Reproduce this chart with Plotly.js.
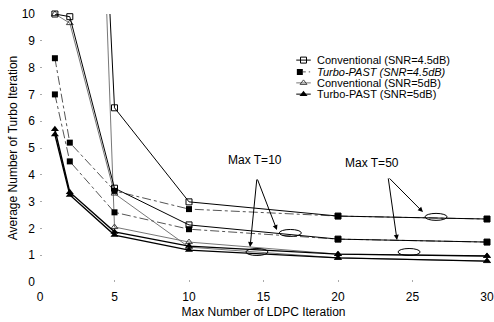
<!DOCTYPE html>
<html>
<head>
<meta charset="utf-8">
<script src="https://cdn.plot.ly/plotly-3.0.1.min.js"></script>
<style>html,body{margin:0;padding:0;background:#fff;}#chart{width:494px;height:322px;}</style>
</head>
<body>
<div id="chart"></div>
<script>
// Max number of LDPC iterations (x)
var ldpcIter = [1, 2, 5, 10, 20, 30];
// Average number of turbo iterations, Max T=10
var conv45_T10  = [10, 9.9, 3.5, 2.13, 1.60, 1.49];
var turbo45_T10 = [7.0, 4.5, 2.6, 1.97, 1.60, 1.49];
var conv5_T10   = [10, 9.66, 3.3, 1.30, 0.90, 0.78];
var turbo5_T10  = [5.5, 3.25, 1.75, 1.19, 0.90, 0.78];
// Average number of turbo iterations, Max T=50 (first points off the top of the chart)
var conv45_T50  = [50, 41, 6.5, 2.99, 2.46, 2.35];
var turbo45_T50 = [8.35, 5.2, 3.4, 2.72, 2.46, 2.35];
var conv5_T50   = [50, 48, 2.05, 1.49, 1.04, 0.97];
var turbo5_T50  = [5.7, 3.35, 1.87, 1.34, 1.04, 0.97];

var legendNames = ['Conventional (SNR=4.5dB)', '<i>Turbo-PAST (SNR=4.5dB)</i>',
                   'Conventional (SNR=5dB)', 'Turbo-PAST (SNR=5dB)'];
var xTicks = [0, 5, 10, 15, 20, 25, 30];
var yTicks = [0, 1, 2, 3, 4, 5, 6, 7, 8, 9, 10];

var FONT = 'Liberation Sans, Arial, sans-serif';

var styles = {
  conv45:  {line: {color: '#000', width: 1}, marker: {symbol: 'square-open', size: 6, color: '#000', line: {width: 1, color: '#000'}}},
  turbo45: {line: {color: '#555', width: 1, dash: 'dashdot'}, marker: {symbol: 'square', size: 6, color: '#000'}},
  conv5:   {line: {color: '#777', width: 1}, marker: {symbol: 'triangle-up-open', size: 6, color: '#444', line: {width: 1, color: '#444'}}},
  turbo5:  {line: {color: '#000', width: 1.4}, marker: {symbol: 'triangle-up', size: 7, color: '#000'}}
};

function series(y, st) {
  return {x: ldpcIter, y: y, type: 'scatter', mode: 'lines+markers',
          line: st.line, marker: st.marker, showlegend: false, cliponaxis: false,
          xaxis: 'x', yaxis: 'y'};
}

var traces = [
  series(conv5_T50, styles.conv5),
  series(conv5_T10, styles.conv5),
  series(turbo5_T50, styles.turbo5),
  series(turbo5_T10, styles.turbo5),
  series(turbo45_T50, styles.turbo45),
  series(turbo45_T10, styles.turbo45),
  series(conv45_T50, styles.conv45),
  series(conv45_T10, styles.conv45)
];

// custom compact legend (keys drawn in a small auxiliary subplot)
var legendStyleOrder = ['conv45', 'turbo45', 'conv5', 'turbo5'];
var legendRowsPaper = [0.828, 0.784, 0.743, 0.701];
legendStyleOrder.forEach(function (k, i) {
  var st = styles[k];
  var yy = legendRowsPaper[i] * 10;
  if (k === 'turbo45') {
    traces.push({x: [0.9, 1.9], y: [yy, yy], type: 'scatter', mode: 'lines',
      line: {color: '#555', width: 1, dash: 'dot'}, showlegend: false, xaxis: 'x2', yaxis: 'y2', hoverinfo: 'skip'});
    traces.push({x: [0.5], y: [yy], type: 'scatter', mode: 'markers',
      marker: st.marker, showlegend: false, xaxis: 'x2', yaxis: 'y2', hoverinfo: 'skip'});
  } else {
    traces.push({x: [0, 2], y: [yy, yy], type: 'scatter', mode: 'lines',
      line: {color: st.line.color, width: 1}, showlegend: false, xaxis: 'x2', yaxis: 'y2', hoverinfo: 'skip'});
    traces.push({x: [1], y: [yy], type: 'scatter', mode: 'markers',
      marker: st.marker, showlegend: false, xaxis: 'x2', yaxis: 'y2', hoverinfo: 'skip'});
  }
});

var annotations = [];
legendNames.forEach(function (n, i) {
  annotations.push({xref: 'paper', yref: 'paper', x: 0.615, y: legendRowsPaper[i],
    xanchor: 'left', yanchor: 'middle', text: n, showarrow: false,
    font: {family: FONT, size: 11, color: '#000'}});
});

function arrow(tx, ty, hx, hy) {
  return {xref: 'x', yref: 'y', axref: 'x', ayref: 'y', x: hx, y: hy, ax: tx, ay: ty,
          text: '', showarrow: true, arrowhead: 2, arrowsize: 1, arrowwidth: 1, arrowcolor: '#000',
          standoff: 0, startstandoff: 0};
}
annotations.push({xref: 'x', yref: 'y', x: 14.4, y: 4.55, text: 'Max T=10', showarrow: false,
  font: {family: FONT, size: 12, color: '#000'}});
annotations.push({xref: 'x', yref: 'y', x: 22.3, y: 4.44, text: 'Max T=50', showarrow: false,
  font: {family: FONT, size: 12, color: '#000'}});
annotations.push(arrow(14.56, 3.88, 15.9, 1.94));
annotations.push(arrow(14.56, 3.88, 14.1, 1.31));
annotations.push(arrow(23.36, 3.92, 25.7, 2.61));
annotations.push(arrow(23.36, 3.92, 23.96, 1.57));

function ellipse(cx, cy) {
  return {type: 'circle', xref: 'x', yref: 'y', x0: cx - 0.74, x1: cx + 0.74, y0: cy - 0.13, y1: cy + 0.13,
          line: {color: '#000', width: 1}};
}
var shapes = [ellipse(16.8, 1.83), ellipse(14.56, 1.12), ellipse(26.58, 2.43), ellipse(24.77, 1.12)];

var layout = {
  width: 494, height: 322,
  margin: {l: 40, r: 7, t: 14, b: 40},
  paper_bgcolor: '#fff', plot_bgcolor: 'rgba(0,0,0,0)',
  font: {family: FONT, size: 12, color: '#000'},
  showlegend: false,
  xaxis: {range: [0, 30], tickvals: xTicks, ticktext: xTicks.map(String),
          showgrid: false, zeroline: false, showline: false,
          ticks: 'inside', ticklen: 2, tickcolor: '#aaa', ticklabelstandoff: 6,
          tickfont: {family: FONT, size: 12, color: '#000'},
          title: {text: 'Max Number of LDPC Iteration', font: {family: FONT, size: 12, color: '#000'}, standoff: 4}},
  yaxis: {range: [0, 10], tickvals: yTicks, ticktext: yTicks.map(String),
          showgrid: false, zeroline: false, showline: false,
          ticks: 'inside', ticklen: 2, tickcolor: '#aaa', ticklabelstandoff: 4,
          tickfont: {family: FONT, size: 12, color: '#000'},
          title: {text: 'Average Number of Turbo Iteration', font: {family: FONT, size: 12, color: '#000'}, standoff: 1}},
  xaxis2: {domain: [0.573, 0.606], range: [0, 2], visible: false, anchor: 'y2', fixedrange: true},
  yaxis2: {domain: [0, 1], range: [0, 10], visible: false, anchor: 'x2', fixedrange: true},
  annotations: annotations,
  shapes: shapes
};

Plotly.newPlot('chart', traces, layout, {staticPlot: true, displayModeBar: false});
</script>
</body>
</html>
